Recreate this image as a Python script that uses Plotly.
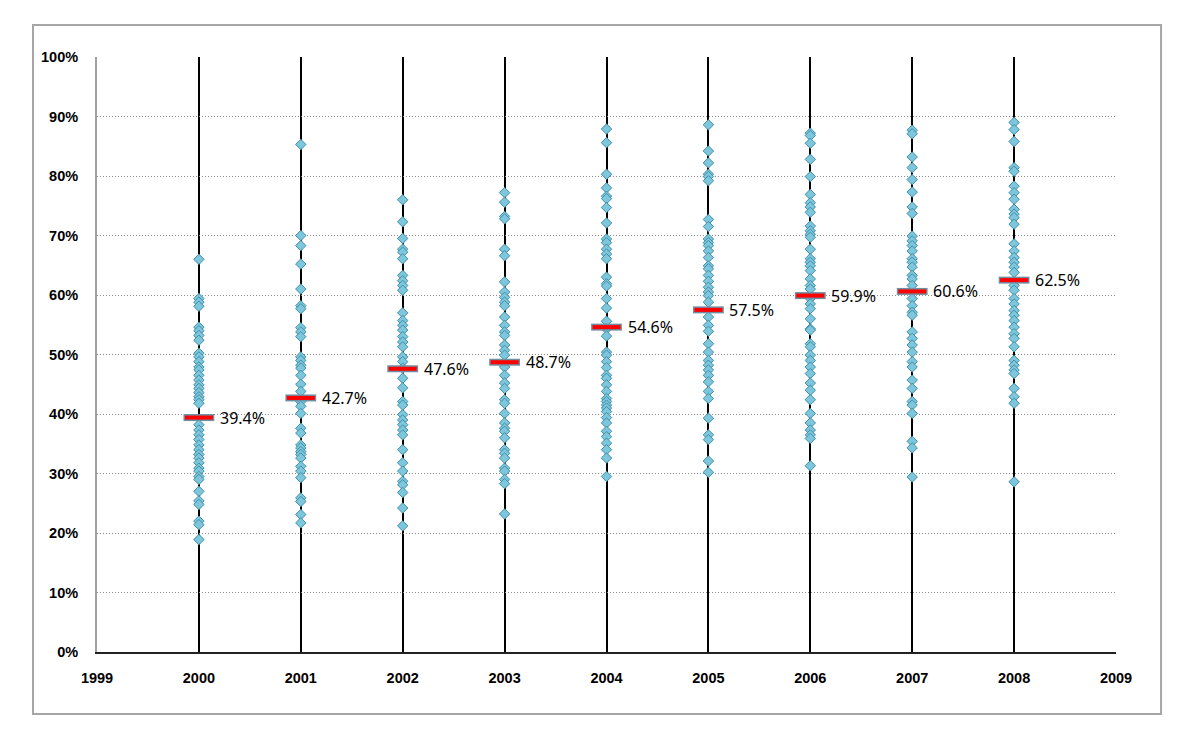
import plotly.graph_objects as go

years = [2000, 2001, 2002, 2003, 2004, 2005, 2006, 2007, 2008]
means = [39.4, 42.7, 47.6, 48.7, 54.6, 57.5, 59.9, 60.6, 62.5]

pts_2000 = [66.0, 59.4, 58.8, 58.1, 54.6, 54.0, 53.2, 52.4, 50.2, 49.6, 48.8, 47.9, 47.4,
            46.5, 45.7, 44.9, 44.3, 43.6, 42.9, 42.4, 41.8, 38.2, 37.3, 36.5, 35.7, 34.8,
            34.0, 33.2, 32.6, 31.8, 30.9, 30.4, 29.5, 29.0, 27.0, 25.4, 24.8, 22.0, 21.4, 18.9]
pts_2001 = [85.3, 70.0, 68.3, 65.2, 61.0, 58.2, 57.7, 54.5, 53.8, 53.0, 49.6, 49.0, 48.2,
            47.7, 46.5, 45.0, 43.8, 42.1, 41.3, 40.1, 37.6, 36.8, 34.8, 34.3, 33.7, 33.2,
            32.6, 31.2, 30.4, 29.3, 25.9, 25.3, 23.1, 21.7]
pts_2002 = [76.0, 72.3, 69.5, 67.7, 67.2, 66.1, 63.3, 62.4, 61.6, 60.8, 57.0, 55.7, 54.9,
            54.1, 53.0, 52.1, 51.3, 49.6, 48.8, 47.7, 46.0, 44.4, 42.1, 41.5, 39.9, 39.0,
            38.2, 37.3, 36.5, 34.0, 31.8, 30.4, 28.7, 28.1, 26.8, 24.2, 21.2]
pts_2003 = [77.2, 75.6, 73.2, 72.8, 67.7, 66.6, 62.2, 60.5, 59.6, 58.8, 58.2, 56.3, 54.9,
            53.8, 53.2, 51.6, 50.7, 49.9, 47.9, 46.5, 45.2, 44.3, 42.4, 41.8, 40.1, 38.5,
            37.6, 37.1, 36.0, 34.0, 33.4, 32.6, 30.9, 30.4, 29.0, 28.3, 23.2]
pts_2004 = [87.9, 85.6, 80.3, 78.0, 76.6, 76.2, 74.7, 72.1, 69.4, 68.8, 67.7, 66.9, 66.1,
            63.0, 61.9, 61.5, 59.4, 57.8, 55.6, 54.3, 53.1, 50.4, 49.9, 48.8, 47.8, 46.5,
            46.0, 44.9, 43.8, 42.6, 42.1, 41.5, 41.0, 40.4, 39.4, 38.5, 37.1, 36.2, 35.1,
            34.0, 32.6, 29.5]
pts_2005 = [88.6, 84.2, 82.2, 80.3, 79.9, 79.2, 72.7, 71.5, 69.4, 68.8, 68.3, 67.4, 66.3,
            64.9, 64.4, 63.3, 62.3, 61.3, 60.5, 59.9, 58.8, 56.3, 54.9, 53.9, 51.8, 50.4,
            49.0, 48.2, 47.4, 46.5, 45.4, 43.8, 42.6, 39.3, 36.5, 35.7, 32.1, 30.2]
pts_2006 = [87.2, 86.8, 85.5, 82.8, 79.9, 76.9, 75.5, 74.8, 73.9, 71.6, 70.8, 70.2, 69.7,
            67.7, 66.1, 65.5, 64.9, 64.1, 62.7, 61.6, 61.0, 59.4, 58.5, 57.7, 56.0, 54.3,
            54.1, 51.8, 51.3, 49.9, 49.0, 47.9, 46.8, 45.2, 44.0, 42.4, 40.1, 38.5, 37.3,
            36.5, 35.9, 31.3]
pts_2007 = [87.7, 87.1, 83.2, 81.4, 79.4, 77.3, 74.8, 73.7, 69.9, 69.1, 68.3, 67.4, 66.1,
            65.5, 64.7, 63.3, 62.7, 61.6, 59.4, 58.2, 57.1, 56.6, 53.8, 52.7, 51.6, 50.4,
            48.8, 47.9, 45.7, 44.3, 42.1, 41.5, 40.1, 35.4, 34.3, 29.4]
pts_2008 = [89.0, 87.8, 85.8, 81.4, 80.8, 78.3, 77.2, 76.1, 74.4, 73.6, 73.0, 71.9, 68.6,
            67.4, 66.3, 65.5, 64.7, 63.8, 61.6, 60.8, 59.4, 58.5, 57.4, 56.6, 55.7, 54.6,
            53.5, 52.7, 51.3, 49.0, 48.2, 47.4, 46.8, 44.3, 42.9, 41.8, 28.6]

all_pts = [pts_2000, pts_2001, pts_2002, pts_2003, pts_2004, pts_2005, pts_2006, pts_2007, pts_2008]

xs, ys = [], []
for yr, pts in zip(years, all_pts):
    xs += [yr] * len(pts)
    ys += pts

fig = go.Figure()

fig.add_trace(
    go.Scatter(
        x=xs, y=ys, mode='markers',
        marker={'symbol': 'diamond', 'size': 8, 'color': '#7DC6DB',
                'line': {'color': '#3F8FAA', 'width': 1}},
        showlegend=False, hoverinfo='skip'
    )
)

# mean bars: grey-blue outline under a red core (line-ew length = 1.4 * size)
fig.add_trace(
    go.Scatter(
        x=years, y=means, mode='markers',
        marker={'symbol': 'line-ew', 'size': 22,
                'line': {'color': '#6F8FA3', 'width': 7}},
        showlegend=False, hoverinfo='skip'
    )
)
fig.add_trace(
    go.Scatter(
        x=years, y=means, mode='markers',
        marker={'symbol': 'line-ew', 'size': 20,
                'line': {'color': '#FF0000', 'width': 4}},
        showlegend=False, hoverinfo='skip'
    )
)

for yr, m in zip(years, means):
    fig.add_annotation(
        x=yr, y=m, text=f"{m}%", showarrow=False,
        xanchor='left', yanchor='middle', xshift=19,
        font={'family': 'Noto Sans', 'size': 16, 'color': '#000000'}
    )

# outer chart frame
fig.add_shape(
    type='rect', xref='paper', yref='paper',
    x0=-0.0628, x1=1.0442, y0=-0.1042, y1=1.0538,
    line={'color': '#A6A6A6', 'width': 2}, layer='below'
)

tick_font = {'family': 'Liberation Sans', 'size': 14.5, 'color': '#000000', 'weight': 'bold'}

layout = {
    'width': 1200,
    'height': 750,
    # page body adds 8px, so margins are shifted to land the plot area at 97..1116 / 57..652
    'margin': {'l': 89, 'r': 92, 't': 49, 'b': 106},
    'paper_bgcolor': 'white',
    'plot_bgcolor': 'white',
    'xaxis': {
        'range': [1999, 2009],
        'tickmode': 'linear', 'tick0': 1999, 'dtick': 1,
        'tickformat': 'd',
        'showgrid': True, 'gridcolor': '#000000', 'gridwidth': 1.6,
        'showline': True, 'linecolor': '#222222', 'linewidth': 2,
        'zeroline': False,
        'ticks': '', 'ticklabelstandoff': 12,
        'tickfont': tick_font,
    },
    'yaxis': {
        'range': [0, 100],
        'tickmode': 'linear', 'tick0': 0, 'dtick': 10,
        'ticksuffix': '%',
        'showgrid': True, 'gridcolor': '#8C8C8C', 'gridwidth': 1, 'griddash': '1px,2px',
        'showline': True, 'linecolor': '#A0A0A0', 'linewidth': 2,
        'zeroline': False,
        'ticks': '', 'ticklabelstandoff': 14,
        'tickfont': tick_font,
    },
}

fig.update_layout(layout)

fig.write_html("out.html")
